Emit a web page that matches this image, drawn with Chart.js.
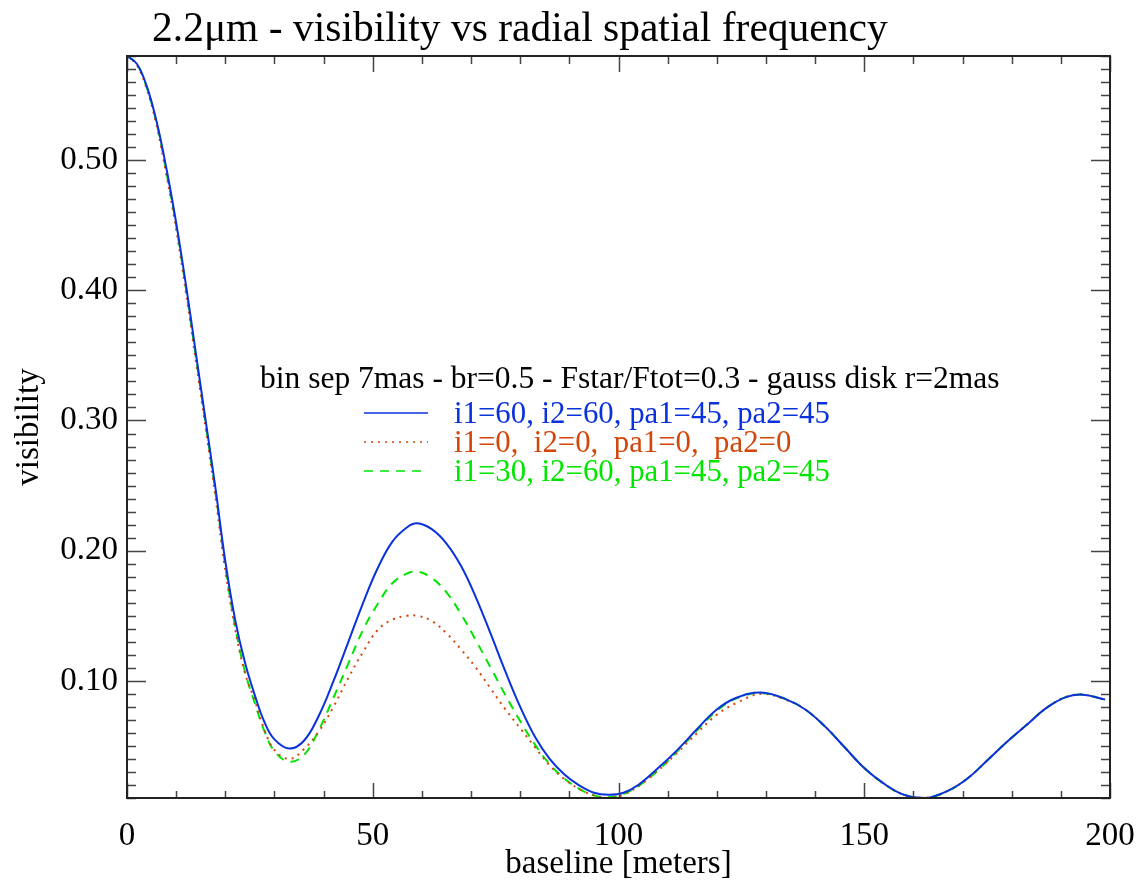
<!DOCTYPE html>
<html>
<head>
<meta charset="utf-8">
<script src="https://cdn.jsdelivr.net/npm/chart.js@4.4.1/dist/chart.umd.min.js"></script>
<style>
  html, body { margin: 0; padding: 0; background: #ffffff; }
  #wrap { width: 1146px; height: 886px; }
</style>
</head>
<body>
<div id="wrap"><canvas id="c" width="1146" height="886"></canvas></div>
<script>
// ---- data ----
const baseline = [0,2,4,6,8,10,12,14,16,18,20,22,24,26,28,30,33,36,39,42,45,48,51,54,57,59,62,65,68,71,74,77,80,83,86,89,92,95,98,101,104,108,112,116,120,124,129,134,138,142,146,150,154,158,162.5,167,171,175,179,183,187,191,194.5,199];

const visI60 = [0.580,0.574,0.557,0.530,0.494,0.452,0.404,0.352,0.300,0.248,0.192,0.147,0.114,0.089,0.068,0.055,0.048,0.054,0.073,0.0997,0.1296,0.1596,0.1865,0.207,0.218,0.221,0.2165,0.2055,0.188,0.164,0.136,0.107,0.080,0.057,0.040,0.028,0.0197,0.014,0.0125,0.014,0.020,0.0328,0.047,0.063,0.078,0.087,0.091,0.086,0.078,0.065,0.049,0.033,0.021,0.0126,0.010,0.0155,0.025,0.0388,0.053,0.066,0.079,0.0875,0.0894,0.0856];

const visI0 = [0.580,0.573,0.555,0.527,0.489,0.447,0.398,0.346,0.294,0.241,0.185,0.140,0.106,0.085,0.062,0.047,0.040,0.0475,0.061,0.080,0.102,0.122,0.139,0.147,0.150,0.150,0.146,0.1365,0.124,0.110,0.094,0.078,0.0636,0.049,0.035,0.0245,0.017,0.012,0.010,0.0125,0.019,0.031,0.045,0.060,0.074,0.083,0.090,0.0855,0.078,0.065,0.049,0.033,0.021,0.0126,0.010,0.0155,0.025,0.0388,0.053,0.066,0.079,0.0875,0.0894,0.0856];

const visI30 = [0.580,0.574,0.556,0.529,0.491,0.450,0.401,0.349,0.297,0.245,0.188,0.142,0.107,0.083,0.061,0.046,0.038,0.043,0.062,0.087,0.113,0.139,0.159,0.175,0.1825,0.184,0.179,0.168,0.151,0.131,0.110,0.089,0.069,0.051,0.036,0.025,0.017,0.012,0.0105,0.013,0.019,0.031,0.046,0.062,0.077,0.0865,0.0905,0.086,0.078,0.065,0.049,0.033,0.021,0.0126,0.010,0.0155,0.025,0.0388,0.053,0.066,0.079,0.0875,0.0894,0.0856];

const xTicks = [0,50,100,150,200];
const yTicks = [0.10,0.20,0.30,0.40,0.50];

const seriesLabels = ['i1=60, i2=60, pa1=45, pa2=45', 'i1=0,  i2=0,  pa1=0,  pa2=0', 'i1=30, i2=60, pa1=45, pa2=45'];
const titleText = '2.2\u03bcm - visibility vs radial spatial frequency';
const headerText = 'bin sep 7mas - br=0.5 - Fstar/Ftot=0.3 - gauss disk r=2mas';

// ---- styles ----
const FAMILY = '"Liberation Serif", "Times New Roman", serif';
const BLUE = '#0a32dc', RED = '#d2460a', GREEN = '#00e600';

function pts(ys) { return baseline.map((b, i) => ({ x: b, y: ys[i] })); }

function fitSize(ctx, text, width) {
  ctx.font = '100px ' + FAMILY;
  return 100 * width / ctx.measureText(text).width;
}

const framePlugin = {
  id: 'frame',
  afterDatasetsDraw(chart) {
    const ctx = chart.ctx;
    const { left, right, top, bottom } = chart.chartArea;
    const xs = chart.scales.x, ys = chart.scales.y;
    ctx.save();
    // ticks
    ctx.strokeStyle = '#444';
    ctx.lineWidth = 1.5;
    ctx.beginPath();
    for (let v = 0; v <= 200; v += 10) {
      const px = Math.round(xs.getPixelForValue(v)) + 0.5;
      const major = v % 50 === 0;
      const lb = major ? 15 : 7, lt = major ? 16 : 8;
      ctx.moveTo(px, bottom); ctx.lineTo(px, bottom - lb);
      ctx.moveTo(px, top); ctx.lineTo(px, top + lt);
    }
    for (let i = 1; i <= 58; i++) {
      const py = Math.round(ys.getPixelForValue(i / 100)) + 0.5;
      const major = i % 10 === 0;
      const l = major ? 19 : 9;
      ctx.moveTo(left, py); ctx.lineTo(left + l, py);
      ctx.moveTo(right, py); ctx.lineTo(right - l, py);
    }
    ctx.stroke();
    // box
    ctx.strokeStyle = '#222';
    ctx.lineWidth = 2;
    ctx.strokeRect(left, top, right - left, bottom - top);

    // title
    const ts = fitSize(ctx, titleText, 736);
    ctx.font = ts + 'px ' + FAMILY;
    ctx.fillStyle = '#000';
    ctx.textBaseline = 'alphabetic';
    ctx.textAlign = 'left';
    ctx.fillText(titleText, 152, 41);

    // annotation header
    const hs = fitSize(ctx, headerText, 740);
    ctx.font = hs + 'px ' + FAMILY;
    ctx.fillText(headerText, 260, 388);

    // legend rows
    const ls = fitSize(ctx, seriesLabels[0], 376);
    const rows = [
      { y: 413, color: BLUE, dash: [] },
      { y: 442, color: RED, dash: [2, 5] },
      { y: 471, color: GREEN, dash: [9, 7] }
    ];
    rows.forEach((r, i) => {
      ctx.beginPath();
      ctx.setLineDash(r.dash);
      ctx.strokeStyle = r.color;
      ctx.lineWidth = 1.6;
      ctx.moveTo(364, r.y); ctx.lineTo(428, r.y);
      ctx.stroke();
      ctx.setLineDash([]);
      ctx.font = ls + 'px ' + FAMILY;
      ctx.fillStyle = r.color;
      ctx.fillText(seriesLabels[i], 454, r.y + ls * 0.33);
    });
    ctx.restore();
  }
};

new Chart(document.getElementById('c'), {
  type: 'line',
  data: {
    datasets: [
      { label: seriesLabels[0], data: pts(visI60), borderColor: BLUE, borderWidth: 2, pointRadius: 0, tension: 0.4, fill: false },
      { label: seriesLabels[1], data: pts(visI0), borderColor: RED, borderWidth: 2, borderDash: [2, 5], pointRadius: 0, tension: 0.4, fill: false },
      { label: seriesLabels[2], data: pts(visI30), borderColor: GREEN, borderWidth: 2, borderDash: [9, 7], pointRadius: 0, tension: 0.4, fill: false }
    ]
  },
  options: {
    responsive: false,
    animation: false,
    devicePixelRatio: 1,
    layout: { padding: { top: 56, right: 36, left: 0, bottom: 0 } },
    plugins: { legend: { display: false }, tooltip: { enabled: false }, title: { display: false } },
    scales: {
      x: {
        type: 'linear', min: 0, max: 200,
        afterBuildTicks(s) { s.ticks = xTicks.map(v => ({ value: v })); },
        ticks: { font: { family: FAMILY, size: 33 }, color: '#000', padding: 19, maxRotation: 0, autoSkip: false },
        grid: { display: false, drawTicks: false },
        border: { display: false },
        title: { display: true, text: 'baseline [meters]', color: '#000', font: { family: FAMILY, size: 33 }, padding: { top: 0, bottom: 2 } },
        afterFit(s) { s.height = 88; s.paddingLeft = 0; s.paddingRight = 0; }
      },
      y: {
        type: 'linear', min: 0.01, max: 0.58,
        afterBuildTicks(s) { s.ticks = yTicks.map(v => ({ value: v })); },
        ticks: { font: { family: FAMILY, size: 33 }, color: '#000', padding: 9, callback: v => Number(v).toFixed(2) },
        grid: { display: false, drawTicks: false },
        border: { display: false },
        title: { display: true, text: 'visibility', color: '#000', font: { family: FAMILY, size: 33 }, padding: { top: 10, bottom: 0 } },
        afterFit(s) { s.width = 127; s.paddingTop = 0; s.paddingBottom = 0; }
      }
    }
  },
  plugins: [framePlugin]
});
</script>
</body>
</html>
